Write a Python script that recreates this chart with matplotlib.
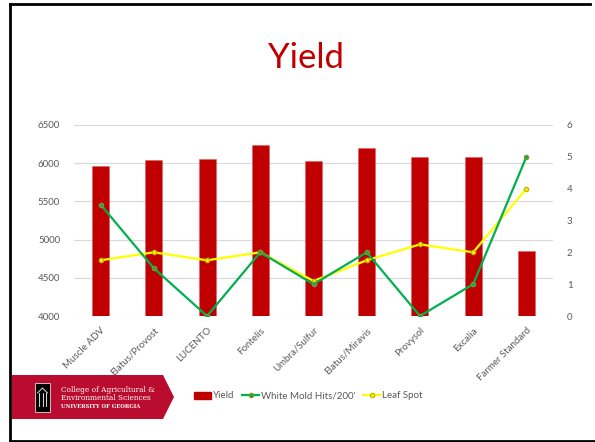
import matplotlib
matplotlib.use("Agg")
import matplotlib.pyplot as plt
from matplotlib.patches import Polygon, Rectangle, Patch
from matplotlib.lines import Line2D
import numpy as np

categories = ["Muscle ADV", "Elatus/Provost", "LUCENTO", "Fontelis", "Umbra/Sulfur",
              "Elatus/Miravis", "Provysol", "Excalia", "Farmer Standard"]
yield_vals = [5960, 6045, 6055, 6235, 6035, 6195, 6075, 6075, 4850]
white_mold = [3.5, 1.5, 0, 2, 1, 2, 0, 1, 5]
leaf_spot = [1.75, 2, 1.75, 2, 1.1, 1.75, 2.25, 2, 4]
left_ticks = [4000, 4500, 5000, 5500, 6000, 6500]
right_ticks = [0, 1, 2, 3, 4, 5, 6]

RED = "#C00000"
GREEN = "#00B050"
YELLOW = "#FFFF00"
GRAY = "#595959"
FONT = ["Lato", "DejaVu Sans"]

plt.rcParams['font.family'] = FONT

W, H = 595, 442
fig = plt.figure(figsize=(W / 100, H / 100), dpi=100)

ax = fig.add_axes([74 / W, 1 - 316 / H, (553 - 74) / W, (316 - 125) / H])
x = np.arange(len(categories))
ax.bar(x, [v - 4000 for v in yield_vals], bottom=4000, width=0.32, color=RED,
       edgecolor="#E06060", linewidth=0.4, zorder=2)
ax.set_ylim(4000, 6500)
ax.set_xlim(-0.5, len(categories) - 0.5)
ax.set_yticks(left_ticks)
ax.set_yticklabels([str(t) for t in left_ticks], color=GRAY, fontsize=7)
ax.grid(axis="y", color="#D9D9D9", linewidth=0.8, zorder=0)
ax.set_axisbelow(True)
ax.set_xticks(x)
ax.set_xticklabels(categories, rotation=45, ha="right", rotation_mode="anchor",
                   color=GRAY, fontsize=7)
ax.tick_params(length=0, pad=7)
ax.tick_params(axis="y", pad=10)
for s in ax.spines.values():
    s.set_visible(False)

ax2 = ax.twinx()
ax2.plot(x, white_mold, color=GREEN, linewidth=1.6, marker="o", markersize=3,
         markerfacecolor=GREEN, markeredgecolor="#7A9A30", zorder=4)
ax2.plot(x, leaf_spot, color=YELLOW, linewidth=1.6, marker="o", markersize=3,
         markerfacecolor=YELLOW, markeredgecolor="#C8B400", zorder=3)
ax2.set_ylim(0, 6)
ax2.set_yticks(right_ticks)
ax2.set_yticklabels([str(t) for t in right_ticks], color=GRAY, fontsize=7)
ax2.tick_params(length=0, pad=10)
for s in ax2.spines.values():
    s.set_visible(False)

fig.text(306 / W, 1 - 58 / H, "Yield", color=RED, fontsize=25, ha="center", va="center",
         family=FONT)

# legend
handles = [Patch(facecolor=RED, edgecolor=RED),
           Line2D([0], [0], color=GREEN, linewidth=1.6, marker="o", markersize=3,
                  markeredgecolor="#7A9A30"),
           Line2D([0], [0], color=YELLOW, linewidth=1.6, marker="o", markersize=3,
                  markeredgecolor="#C8B400")]
fig.legend(handles, ["Yield", "White Mold Hits/200'", "Leaf Spot"], ncol=3,
           loc="center", bbox_to_anchor=(308 / W, 1 - 396 / H), frameon=False,
           fontsize=7, handlelength=1.8, handletextpad=0.15, columnspacing=0.8,
           labelcolor=GRAY)

# border
fig.add_artist(Line2D([10 / W, 10 / W], [1 - 441 / H, 1 - 4 / H], color="black",
                      linewidth=2, transform=fig.transFigure))
fig.add_artist(Line2D([10 / W, 590 / W], [1 - 4 / H, 1 - 4 / H], color="black",
                      linewidth=2, transform=fig.transFigure))
fig.add_artist(Line2D([10 / W, 595 / W], [1 - 441 / H, 1 - 441 / H], color="black",
                      linewidth=2, transform=fig.transFigure))

# banner
def fx(px):
    return px / W

def fy(py):
    return 1 - py / H

banner = Polygon([(fx(12), fy(375)), (fx(163), fy(375)), (fx(174), fy(397)),
                  (fx(163), fy(419)), (fx(12), fy(419))], closed=True,
                 facecolor="#BA0C2F", edgecolor="none", transform=fig.transFigure)
fig.add_artist(banner)
fig.add_artist(Rectangle((fx(35), fy(412)), fx(50) - fx(35), fy(383) - fy(412),
                         facecolor="black", edgecolor="white", linewidth=0.5,
                         transform=fig.transFigure))
# arch glyph
for px in [39, 42.5, 46]:
    fig.add_artist(Line2D([fx(px), fx(px)], [fy(406), fy(393)], color="white",
                          linewidth=0.6, transform=fig.transFigure))
fig.add_artist(Line2D([fx(37.5), fx(42.5), fx(47.5)], [fy(393), fy(388), fy(393)],
                      color="white", linewidth=0.6, transform=fig.transFigure))
fig.text(fx(61), fy(390), "College of Agricultural &", color="white", fontsize=5.3,
         family="DejaVu Serif", va="center", ha="left")
fig.text(fx(61), fy(398.5), "Environmental Sciences", color="white", fontsize=5.3,
         family="DejaVu Serif", va="center", ha="left")
fig.text(fx(61), fy(407), "UNIVERSITY OF GEORGIA", color="white", fontsize=3.8,
         family="DejaVu Serif", weight="bold", va="center", ha="left")

fig.savefig("out.png", dpi=100)
